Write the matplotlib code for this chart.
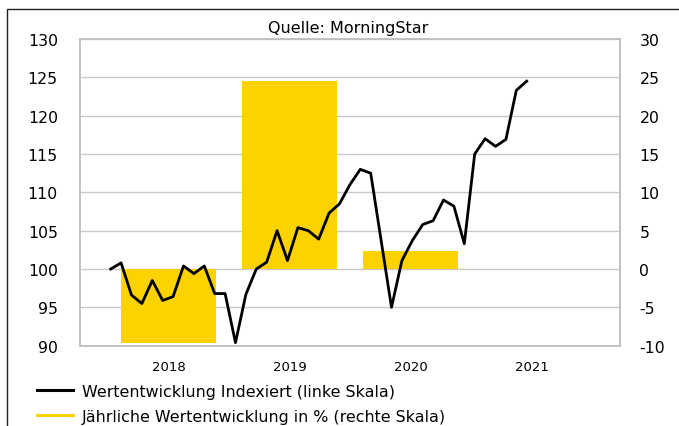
import matplotlib

matplotlib.use("Agg")
import matplotlib.pyplot as plt
from matplotlib.lines import Line2D
from matplotlib.patches import Rectangle

# yearly performance in % (right scale), bars
years = ["2018", "2019", "2020", "2021"]
yearly_pct = [-9.6, 24.5, 2.3]

# indexed performance (left scale), roughly monthly points; one month missing
month_idx = list(range(26)) + list(range(27, 41))
index_vals = [
    100.0, 100.8, 96.6, 95.5, 98.5, 95.9, 96.4, 100.4, 99.4, 100.4,
    96.8, 96.8, 90.4, 96.7, 100.0, 100.9, 105.0, 101.1, 105.4, 105.0,
    103.9, 107.3, 108.5, 111.0, 113.0, 112.5,
    95.0, 101.1, 103.7, 105.8, 106.3, 109.0, 108.2, 103.3, 115.0, 117.0,
    116.0, 116.9, 123.3, 124.5,
]

YELLOW, INK, GRID, SPINE = "#fcd200", "#000000", "#c9c9c9", "#bdbdbd"
plt.rcParams["axes.unicode_minus"] = False

fig = plt.figure(figsize=(6.79, 4.27), dpi=100)
rect = [80 / 679, 1 - 346.7 / 427, 540 / 679, 306.7 / 427]

# bars on the right scale
axb = fig.add_axes(rect)
axb.bar(range(len(yearly_pct)), yearly_pct, width=0.785, color=YELLOW, zorder=2)
axb.set_xlim(-0.731, 3.731)
axb.set_ylim(-10, 30)
axb.set_yticks(range(-10, 31, 5))
axb.set_xticks(range(len(years)), years)
axb.yaxis.tick_right()
axb.grid(axis="y", color=GRID, lw=1)
axb.set_axisbelow(True)
axb.tick_params(axis="y", length=0, pad=14, labelsize=11.3)
axb.tick_params(axis="x", length=0, pad=10, labelsize=9.5)
for s in axb.spines.values():
    s.set_color(SPINE)
    s.set_linewidth(1.3)

# line on the left scale, own x axis
axl = fig.add_axes(rect, frameon=False)
axl.plot(month_idx, index_vals, color=INK, lw=2.0, zorder=3)
axl.set_xlim(-2.95, 48.97)
axl.set_ylim(90, 130)
axl.set_yticks(range(90, 131, 5))
axl.set_xticks([])
axl.tick_params(axis="y", length=0, pad=16, labelsize=11.3)

fig.text(348 / 679, 1 - 28 / 427, "Quelle: MorningStar", ha="center",
         va="center", fontsize=11.5)

handles = [
    Line2D([], [], color=INK, lw=2.2),
    Line2D([], [], color=YELLOW, lw=2.2),
]
labels = [
    "Wertentwicklung Indexiert (linke Skala)",
    "Jährliche Wertentwicklung in % (rechte Skala)",
]
fig.legend(handles, labels, loc="upper left", bbox_to_anchor=(30.6 / 679, 1 - 378.5 / 427),
           frameon=False, fontsize=11.4, handlelength=2.25, handletextpad=0.6,
           labelspacing=0.62, borderaxespad=0)

# outer frame, right and bottom edge fall outside the picture
fig.patches.append(Rectangle((7 / 679, -0.1), 1.1, 1 - 10 / 427 + 0.1,
                             transform=fig.transFigure, fill=False,
                             edgecolor="#222222", lw=1))

fig.savefig("out.png", dpi=100)
